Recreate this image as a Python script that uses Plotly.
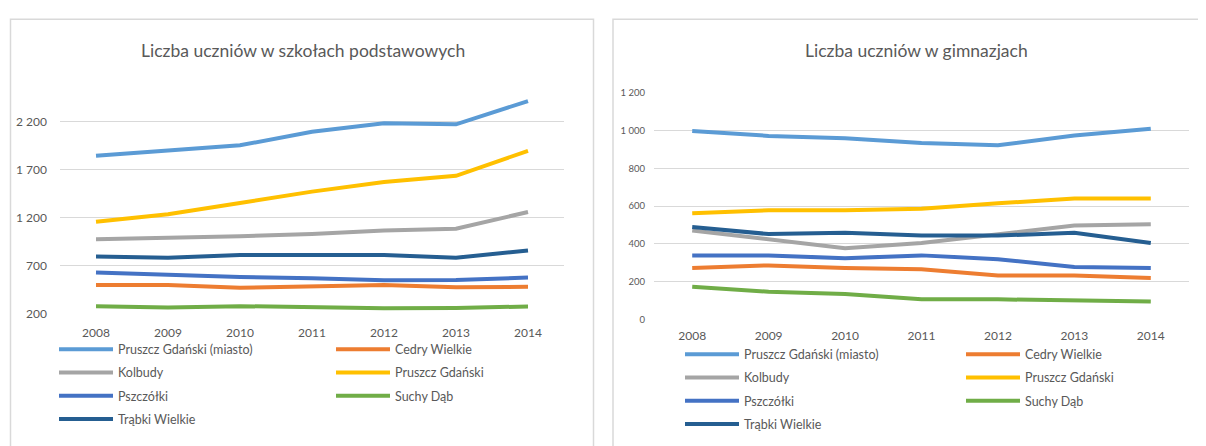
import plotly.graph_objects as go

# ---------------- data ----------------
years = [2008, 2009, 2010, 2011, 2012, 2013, 2014]
series_names = ["Pruszcz Gdański (miasto)", "Cedry Wielkie", "Kolbudy", "Pruszcz Gdański",
                "Pszczółki", "Suchy Dąb", "Trąbki Wielkie"]

# Liczba uczniów w szkołach podstawowych
pod_miasto = [1843, 1894, 1951, 2092, 2180, 2170, 2412]
pod_cedry = [496, 496, 469, 483, 496, 473, 479]
pod_kolbudy = [974, 985, 1005, 1028, 1065, 1082, 1257]
pod_pruszcz = [1156, 1234, 1351, 1469, 1570, 1634, 1894]
pod_pszczolki = [628, 601, 580, 567, 547, 550, 574]
pod_suchy = [277, 264, 277, 267, 254, 257, 274]
pod_trabki = [793, 782, 809, 809, 809, 782, 857]

# Liczba uczniów w gimnazjach
gim_miasto = [998, 972, 960, 934, 922, 974, 1010]
gim_cedry = [272, 286, 272, 266, 233, 233, 219]
gim_kolbudy = [471, 422, 377, 405, 449, 497, 504]
gim_pruszcz = [562, 578, 578, 586, 615, 641, 641]
gim_pszczolki = [339, 339, 324, 339, 319, 278, 272]
gim_suchy = [173, 146, 134, 106, 106, 101, 94]
gim_trabki = [490, 452, 459, 444, 444, 459, 405]

title_left = "Liczba uczniów w szkołach podstawowych"
title_right = "Liczba uczniów w gimnazjach"
ticks_left = [200, 700, 1200, 1700, 2200]
ticks_right = [0, 200, 400, 600, 800, 1000, 1200]

colors = ["#5B9BD5", "#ED7D31", "#A5A5A5", "#FFC000", "#4472C4", "#70AD47", "#255E91"]

# page body has an 8px margin: figure is placed at (8, 8) in the window
OFF = 8
W, H = 1206 - OFF, 446 - OFF
FONT = "Lato, Liberation Sans, sans-serif"
TXT = "#595959"
GRID = "#D9D9D9"


def px_x(p):
    return (p - OFF) / W


def px_y(p):
    return 1 - (p - OFF) / H


fig = go.Figure()

pod = [pod_miasto, pod_cedry, pod_kolbudy, pod_pruszcz, pod_pszczolki, pod_suchy, pod_trabki]
gim = [gim_miasto, gim_cedry, gim_kolbudy, gim_pruszcz, gim_pszczolki, gim_suchy, gim_trabki]

for i, (name, vals) in enumerate(zip(series_names, pod)):
    fig.add_trace(go.Scatter(
        x=years, y=vals, name=name, mode="lines",
        line=dict(color=colors[i], width=4),
        xaxis="x", yaxis="y",
        legend="legend" if i % 2 == 0 else "legend2",
        legendgroup="p%d" % i, hoverinfo="skip"))
for i, (name, vals) in enumerate(zip(series_names, gim)):
    fig.add_trace(go.Scatter(
        x=years, y=vals, name=name, mode="lines",
        line=dict(color=colors[i], width=4),
        xaxis="x2", yaxis="y2",
        legend="legend3" if i % 2 == 0 else "legend4",
        legendgroup="g%d" % i, hoverinfo="skip"))

xcommon = dict(range=[2007.5, 2014.5], tickvals=years, showgrid=False, zeroline=False,
               showline=False, ticks="", tickfont=dict(family=FONT, size=12, color=TXT),
               fixedrange=True)

legend_common = dict(bgcolor="rgba(0,0,0,0)", borderwidth=0, orientation="v",
                     xanchor="left", yanchor="top", itemwidth=54, tracegroupgap=4,
                     font=dict(family=FONT, size=12.5, color=TXT), itemclick=False)

fig.update_layout(
    width=W, height=H,
    margin=dict(l=0, r=0, t=0, b=0),
    paper_bgcolor="white", plot_bgcolor="white",
    separators=", ",
    showlegend=True,
    xaxis=dict(domain=[px_x(60), px_x(564)], anchor="y", ticklabelstandoff=10, **xcommon),
    yaxis=dict(domain=[px_y(316.7), px_y(79.1)], anchor="x", range=[200, 2600],
               tickvals=ticks_left, tickformat=",d", showgrid=True, gridcolor=GRID,
               gridwidth=1, zeroline=False, showline=False, ticks="",
               ticklabelstandoff=12,
               tickfont=dict(family=FONT, size=12, color=TXT), fixedrange=True),
    xaxis2=dict(domain=[px_x(654), px_x(1189)], anchor="y2", ticklabelstandoff=8, **xcommon),
    yaxis2=dict(domain=[px_y(322.7), px_y(89.3)], anchor="x2", range=[0, 1200],
                tickvals=ticks_right, tickformat=",d", showgrid=True, gridcolor=GRID,
                gridwidth=1, zeroline=False, showline=False, ticks="",
                ticklabelstandoff=8,
                tickfont=dict(family=FONT, size=9.5, color=TXT), fixedrange=True),
    legend=dict(x=px_x(54), y=px_y(338.5), **legend_common),
    legend2=dict(x=px_x(331), y=px_y(338.5), **legend_common),
    legend3=dict(x=px_x(680), y=px_y(343.5), **legend_common),
    legend4=dict(x=px_x(961), y=px_y(343.5), **legend_common),
    annotations=[
        dict(text=title_left, x=px_x(303), y=px_y(46), xref="paper", yref="paper",
             showarrow=False, xanchor="center", yanchor="middle",
             font=dict(family=FONT, size=17.5, color=TXT)),
        dict(text=title_right, x=px_x(916), y=px_y(46), xref="paper", yref="paper",
             showarrow=False, xanchor="center", yanchor="middle",
             font=dict(family=FONT, size=17.5, color=TXT)),
    ],
    shapes=[
        dict(type="rect", xref="paper", yref="paper", x0=px_x(10.5), x1=px_x(593.5),
             y0=-0.1, y1=px_y(13.5), line=dict(color=GRID, width=1.5), layer="below"),
        dict(type="rect", xref="paper", yref="paper", x0=px_x(613), x1=1.1,
             y0=-0.1, y1=px_y(13.5), line=dict(color=GRID, width=1.5), layer="below"),
    ],
)

fig.write_html("out.html")
